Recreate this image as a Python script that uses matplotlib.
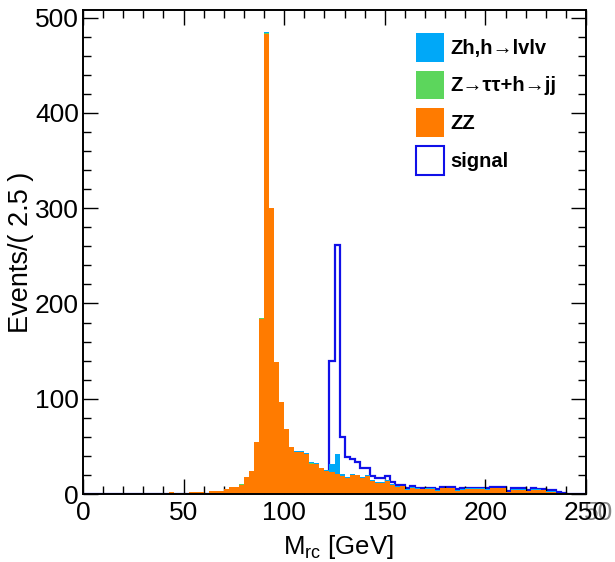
import numpy as np
import matplotlib
matplotlib.use("Agg")
import matplotlib.pyplot as plt
from matplotlib.patches import Patch
from matplotlib.ticker import MultipleLocator

plt.rcParams['font.family'] = ['Liberation Sans', 'DejaVu Sans']
plt.rcParams['mathtext.fontset'] = 'custom'
plt.rcParams['mathtext.rm'] = 'Liberation Sans'
plt.rcParams['mathtext.it'] = 'Liberation Sans:italic'

# Binning: M_rc from 0 to 250 GeV in 2.5 GeV bins
bin_width = 2.5
x_min, x_max = 0.0, 250.0

# Background: ZZ (per bin, 100 bins)
zz = [
    0.5, 0.5, 0.5, 0.5, 0.5, 0.5, 0.5, 0.5, 0.5, 0.5,
    0.5, 0.5, 0.5, 0.5, 0.5, 0.5, 0.5, 1.8, 0.6, 0.6,
    0.8, 2.0, 2.0, 2.0, 1.5, 3.0, 3.2, 3.5, 4.9, 7.4,
    7.4, 9.5, 17.5, 24.0, 54.5, 184.0, 483.0, 300.0, 138.5, 96.5,
    68.0, 49.0, 44.5, 44.5, 42.5, 32.0, 32.0, 27.0, 24.5, 23.0,
    20.5, 18.5, 16.5, 19.5, 19.5, 17.3, 19.0, 13.5, 12.0, 12.0,
    13.5, 9.5, 7.7, 8.0, 4.0, 6.8, 5.3, 4.8, 5.3, 5.3,
    3.6, 6.0, 5.9, 5.9, 3.5, 4.6, 5.3, 5.3, 5.1, 5.3,
    4.6, 6.0, 6.0, 6.0, 1.8, 4.6, 4.6, 4.5, 2.8, 4.5,
    4.2, 3.9, 2.5, 2.3, 1.2, 1.0, 0.3, 0.3, 0.2, 0.2,
]

# Background: Z->tautau + h->jj
ztt_hjj = [
    0.0, 0.0, 0.0, 0.0, 0.0, 0.0, 0.0, 0.0, 0.0, 0.0,
    0.0, 0.0, 0.0, 0.0, 0.0, 0.0, 0.0, 0.3, 0.0, 0.0,
    0.0, 0.0, 0.0, 0.0, 0.0, 0.3, 0.0, 0.0, 0.0, 0.0,
    0.0, 0.6, 0.0, 0.0, 0.3, 0.5, 0.5, 0.0, 0.0, 0.0,
    0.0, 0.0, 0.0, 0.0, 0.0, 0.3, 0.0, 0.0, 0.0, 0.0,
    0.0, 0.0, 0.0, 0.0, 0.0, 0.0, 0.0, 0.0, 0.0, 0.0,
    0.0, 0.0, 0.0, 0.0, 0.0, 0.0, 0.0, 0.0, 0.0, 0.0,
    0.0, 0.0, 0.0, 0.0, 0.0, 0.0, 0.0, 0.0, 0.0, 0.0,
    0.0, 0.0, 0.0, 0.0, 0.0, 0.0, 0.0, 0.0, 0.0, 0.0,
    0.0, 0.0, 0.0, 0.0, 0.0, 0.0, 0.0, 0.0, 0.0, 0.0,
]

# Background: Zh, h->lvlv
zh_lvlv = [
    0.0, 0.0, 0.0, 0.0, 0.0, 0.0, 0.0, 0.0, 0.0, 0.0,
    0.0, 0.0, 0.0, 0.0, 0.0, 0.0, 0.0, 0.0, 0.0, 0.0,
    0.0, 0.0, 0.0, 0.0, 0.0, 0.0, 0.0, 0.0, 0.0, 0.0,
    0.0, 0.0, 0.0, 0.0, 0.0, 0.3, 1.0, 0.5, 0.3, 0.3,
    0.3, 0.4, 1.0, 0.5, 0.5, 1.0, 0.6, 0.3, 1.0, 9.0,
    21.5, 2.5, 1.0, 1.2, 0.8, 0.8, 0.5, 1.0, 0.5, 0.5,
    0.8, 0.5, 0.5, 0.5, 1.5, 0.7, 0.7, 0.8, 0.6, 0.7,
    0.7, 0.7, 0.8, 0.7, 0.7, 0.6, 0.7, 0.8, 0.7, 0.7,
    0.7, 0.7, 0.8, 0.7, 0.7, 0.7, 0.7, 0.6, 0.7, 0.7,
    0.7, 0.7, 0.7, 0.7, 0.2, 0.2, 0.1, 0.1, 0.1, 0.1,
]

# Signal
signal = [
    0.0, 0.0, 0.0, 0.0, 0.0, 0.0, 0.0, 0.0, 0.0, 0.0,
    0.0, 0.0, 0.0, 0.0, 0.0, 0.0, 0.0, 0.0, 0.0, 0.0,
    0.0, 0.0, 0.0, 0.0, 0.0, 0.0, 0.0, 0.0, 0.0, 0.0,
    0.0, 0.0, 0.0, 0.0, 0.0, 0.0, 0.0, 0.0, 0.0, 0.0,
    0.0, 0.0, 0.0, 0.0, 0.0, 0.0, 0.0, 0.0, 0.0, 140.0,
    261.0, 59.5, 39.0, 36.4, 33.3, 27.6, 27.6, 19.0, 17.0, 17.0,
    19.0, 13.0, 9.5, 9.5, 6.5, 8.3, 6.8, 6.3, 6.8, 6.8,
    5.1, 7.5, 7.4, 7.4, 5.0, 6.1, 6.8, 6.8, 6.6, 6.8,
    6.1, 7.5, 7.5, 7.5, 3.3, 6.1, 6.1, 6.0, 4.3, 6.0,
    5.7, 5.4, 4.0, 3.8, 1.6, 1.3, 0.4, 0.4, 0.3, 0.3,
]

labels = ["Zh,h\u2192lvlv", "Z\u2192\u03c4\u03c4+h\u2192jj", "ZZ", "signal"]

c_zz = "#ff7b00"
c_ztt = "#5cd65c"
c_zh = "#00a8f8"
c_sig = "#1010e8"

tick_fs = 19
x_pad = 5

edges = np.arange(x_min, x_max + bin_width / 2, bin_width)
centers = 0.5 * (edges[:-1] + edges[1:])

fig = plt.figure(figsize=(6.15, 5.62), dpi=100)
ax = fig.add_axes([83 / 615, 1 - 494 / 562, 503 / 615, 484 / 562])

# signal outline sits behind the stacked backgrounds
ax.stairs(signal, edges, color=c_sig, linewidth=1.6, zorder=1)

ax.hist([centers, centers, centers], bins=edges,
        weights=[zz, ztt_hjj, zh_lvlv], stacked=True,
        histtype='stepfilled', color=[c_zz, c_ztt, c_zh],
        linewidth=0, zorder=2)

ax.set_xlim(x_min, x_max)
ax.set_ylim(0, 508)

ax.xaxis.set_major_locator(MultipleLocator(50))
ax.xaxis.set_minor_locator(MultipleLocator(10))
ax.yaxis.set_major_locator(MultipleLocator(100))
ax.yaxis.set_minor_locator(MultipleLocator(20))
ax.tick_params(which='both', direction='in', top=True, right=True,
               width=1.0, color='black')
ax.tick_params(which='major', length=10.5)
ax.tick_params(which='minor', length=5.5)
ax.tick_params(axis='both', labelsize=tick_fs)
ax.tick_params(axis='x', pad=x_pad)
ax.tick_params(axis='y', pad=3)
for s in ax.spines.values():
    s.set_linewidth(1.4)

ax.set_xlabel(r"M$_{\mathrm{rc}}$ [GeV]", fontsize=18.5)
ax.xaxis.set_label_coords(0.507, -0.080)
ax.set_ylabel("Events/( 2.5 )", fontsize=19.5)
ax.yaxis.set_label_coords(-0.098, 0.5)

# stray overlapping "50" next to the last x label
ax.annotate("50", xy=(x_max, 0), xycoords=('data', 'axes fraction'),
            xytext=(9, -x_pad), textcoords='offset points',
            ha='center', va='top', fontsize=tick_fs, color='#858585',
            zorder=0, annotation_clip=False)

handles = [Patch(facecolor=c_zh, edgecolor='none'),
           Patch(facecolor=c_ztt, edgecolor='none'),
           Patch(facecolor=c_zz, edgecolor='none'),
           Patch(facecolor='white', edgecolor=c_sig, linewidth=1.5)]
ax.legend(handles, labels, loc='upper left',
          bbox_to_anchor=(415.7 / 615, 1 - 33.0 / 562),
          bbox_transform=fig.transFigure, frameon=False,
          prop={'weight': 'bold', 'size': 14.5},
          handlelength=1.42, handleheight=1.82, labelspacing=0.44,
          handletextpad=0.3, borderpad=0, borderaxespad=0)

fig.savefig("out.png", dpi=100)
